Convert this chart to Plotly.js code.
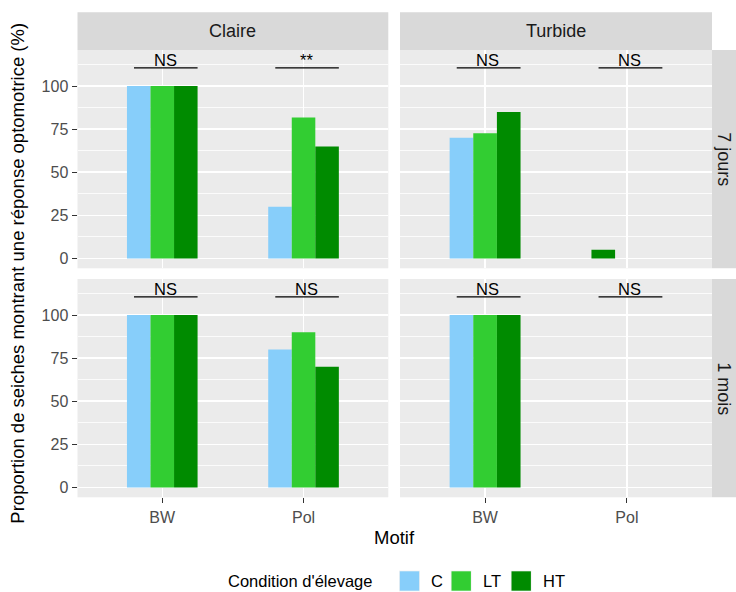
<!DOCTYPE html>
<html><head><meta charset="utf-8">
<script src="https://cdn.plot.ly/plotly-3.0.1.min.js"></script>
<style>html,body{margin:0;padding:0;background:#fff;}</style>
</head><body><div id="chart" style="width:736px;height:592px;"></div>
<script>
// ---------- data ----------
const motifs = ['BW', 'Pol'];
const conditions = ['C', 'LT', 'HT'];
const conditionColors = ['#87CEFA', '#32CD32', '#008B00'];
const eauLabels = ['Claire', 'Turbide'];
const periodLabels = ['7 jours', '1 mois'];
const legendTitle = "Condition d'élevage";
const xTitle = 'Motif';
const yTitle = 'Proportion de seiches montrant une réponse optomotrice (%)';
const yTicks = [0, 25, 50, 75, 100];

// values per motif, order [C, LT, HT]; null = no observation
const claire7_BW = [100, 100, 100];
const claire7_Pol = [30, 81.8, 65];
const turbide7_BW = [70, 72.7, 85];
const turbide7_Pol = [null, null, 5];
const claire1m_BW = [100, 100, 100];
const claire1m_Pol = [80, 90, 70];
const turbide1m_BW = [100, 100, 100];
const turbide1m_Pol = [null, null, null];

// significance labels per motif [BW, Pol]
const sig_claire7 = ['NS', '**'];
const sig_turbide7 = ['NS', 'NS'];
const sig_claire1m = ['NS', 'NS'];
const sig_turbide1m = ['NS', 'NS'];

// ---------- layout geometry (pixels) ----------
const W = 736, H = 592;
const colPx = [[77.5, 388.3], [400, 712]];
const rowPx = [[50, 268.3], [279, 497.3]];
const stripTop = 12.3, stripRight = 736;
const px2x = p => p / W;
const py2y = p => (H - p) / H;
const yRange = [-5.76, 120.96];
const xRange = [-0.6, 1.6];
const dodgeWidth = 0.5;
const sigY = 110.6;

const panels = [
  {row: 0, col: 0, groups: [claire7_BW, claire7_Pol], sig: sig_claire7},
  {row: 0, col: 1, groups: [turbide7_BW, turbide7_Pol], sig: sig_turbide7},
  {row: 1, col: 0, groups: [claire1m_BW, claire1m_Pol], sig: sig_claire1m},
  {row: 1, col: 1, groups: [turbide1m_BW, turbide1m_Pol], sig: sig_turbide1m},
];

const font = 'Liberation Sans, Arial, sans-serif';
const traces = [];
const layout = {
  width: W, height: H,
  margin: {l: 0, r: 0, t: 0, b: 0},
  paper_bgcolor: '#FFFFFF',
  plot_bgcolor: '#EBEBEB',
  barmode: 'overlay',
  showlegend: false,
  font: {family: font, color: '#000'},
  shapes: [],
  annotations: [],
};

const nSlots = conditions.length;
const barW = dodgeWidth / nSlots;

panels.forEach((p, i) => {
  const n = i + 1;
  const xa = n === 1 ? 'x' : 'x' + n;
  const ya = n === 1 ? 'y' : 'y' + n;
  const bottom = p.row === 1;
  const left = p.col === 0;
  // slot positions (ggplot dodge, preserve = single: left aligned)
  const offsets = p.groups.map(g => {
    let j = 0;
    return g.map(v => (v === null ? 0 : -dodgeWidth / 2 + (j++) * barW));
  });
  conditions.forEach((c, k) => {
    traces.push({
      type: 'bar',
      name: c,
      x: motifs,
      y: p.groups.map(g => g[k]),
      offset: p.groups.map((g, gi) => offsets[gi][k]),
      width: barW,
      marker: {color: conditionColors[k], line: {width: 0}},
      xaxis: xa, yaxis: ya,
      hoverinfo: 'skip',
    });
  });
  layout[n === 1 ? 'xaxis' : 'xaxis' + n] = {
    domain: [px2x(colPx[p.col][0]), px2x(colPx[p.col][1])],
    anchor: ya,
    type: 'category',
    range: xRange,
    showgrid: true, gridcolor: '#FFFFFF', gridwidth: 1.5,
    zeroline: false, showline: false,
    ticks: bottom ? 'outside' : '', ticklen: 5, tickwidth: 1.1, tickcolor: '#333333',
    showticklabels: bottom,
    tickfont: {family: font, size: 16, color: '#4D4D4D'},
    fixedrange: true,
  };
  layout[n === 1 ? 'yaxis' : 'yaxis' + n] = {
    domain: [py2y(rowPx[p.row][1]), py2y(rowPx[p.row][0])],
    anchor: xa,
    range: yRange,
    tickmode: 'array', tickvals: yTicks,
    showgrid: true, gridcolor: '#FFFFFF', gridwidth: 1.5,
    minor: {dtick: 12.5, tick0: 0, showgrid: true, gridcolor: '#FFFFFF', gridwidth: 0.8, ticks: ''},
    zeroline: false, showline: false,
    ticks: left ? 'outside' : '', ticklen: 5, tickwidth: 1.1, tickcolor: '#333333',
    showticklabels: left,
    tickfont: {family: font, size: 16, color: '#4D4D4D'},
    fixedrange: true,
  };
  // significance brackets
  p.sig.forEach((s, mi) => {
    layout.shapes.push({
      type: 'line', xref: xa, yref: ya,
      x0: mi - 0.2, x1: mi + 0.25, y0: sigY, y1: sigY,
      line: {color: '#000000', width: 1.3},
    });
    layout.annotations.push({
      xref: xa, yref: ya, x: mi + 0.02, y: sigY,
      text: s, showarrow: false, xanchor: 'center', yanchor: 'bottom', yshift: -3,
      font: {family: font, size: 16.5, color: '#000000'},
    });
  });
});

// top strips
eauLabels.forEach((lab, c) => {
  layout.shapes.push({
    type: 'rect', xref: 'paper', yref: 'paper', layer: 'below',
    x0: px2x(colPx[c][0]), x1: px2x(colPx[c][1]), y0: py2y(rowPx[0][0]), y1: py2y(stripTop),
    fillcolor: '#D9D9D9', line: {width: 0},
  });
  layout.annotations.push({
    xref: 'paper', yref: 'paper', x: px2x((colPx[c][0] + colPx[c][1]) / 2), y: py2y((stripTop + rowPx[0][0]) / 2),
    text: lab, showarrow: false, xanchor: 'center', yanchor: 'middle',
    font: {family: font, size: 18, color: '#1A1A1A'},
  });
});
// right strips
periodLabels.forEach((lab, r) => {
  layout.shapes.push({
    type: 'rect', xref: 'paper', yref: 'paper', layer: 'below',
    x0: px2x(colPx[1][1]), x1: px2x(stripRight), y0: py2y(rowPx[r][1]), y1: py2y(rowPx[r][0]),
    fillcolor: '#D9D9D9', line: {width: 0},
  });
  layout.annotations.push({
    xref: 'paper', yref: 'paper', x: px2x((colPx[1][1] + stripRight) / 2), y: py2y((rowPx[r][0] + rowPx[r][1]) / 2),
    text: lab, showarrow: false, textangle: 90, xanchor: 'center', yanchor: 'middle',
    font: {family: font, size: 18, color: '#1A1A1A'},
  });
});

// axis titles
layout.annotations.push({
  xref: 'paper', yref: 'paper', x: px2x((colPx[0][0] + colPx[1][1]) / 2), y: py2y(537.5),
  text: xTitle, showarrow: false, xanchor: 'center', yanchor: 'middle',
  font: {family: font, size: 18.5, color: '#000000'},
});
layout.annotations.push({
  xref: 'paper', yref: 'paper', x: px2x(18), y: py2y((rowPx[0][0] + rowPx[1][1]) / 2),
  text: yTitle, showarrow: false, textangle: -90, xanchor: 'center', yanchor: 'middle',
  font: {family: font, size: 18.5, color: '#000000'},
});

// legend (ggplot style, bottom)
const legY = 581;
const keyTop = 570.5;
layout.annotations.push({
  xref: 'paper', yref: 'paper', x: px2x(227.3), y: py2y(legY),
  text: legendTitle, showarrow: false, xanchor: 'left', yanchor: 'middle', borderpad: 0,
  font: {family: font, size: 16.5, color: '#000000'},
});
const keyX = [399, 450.7, 510.7];
const keySize = 21;
conditions.forEach((c, k) => {
  layout.shapes.push({
    type: 'rect', xref: 'paper', yref: 'paper',
    x0: px2x(keyX[k]), x1: px2x(keyX[k] + keySize), y0: py2y(keyTop + keySize), y1: py2y(keyTop),
    fillcolor: '#F2F2F2', line: {width: 0},
  });
  layout.shapes.push({
    type: 'rect', xref: 'paper', yref: 'paper',
    x0: px2x(keyX[k] + 0.8), x1: px2x(keyX[k] + keySize - 0.8), y0: py2y(keyTop + keySize - 0.8), y1: py2y(keyTop + 0.8),
    fillcolor: conditionColors[k], line: {width: 0},
  });
  layout.annotations.push({
    xref: 'paper', yref: 'paper', x: px2x(keyX[k] + keySize + 9.8), y: py2y(legY),
    text: c, showarrow: false, xanchor: 'left', yanchor: 'middle', borderpad: 0,
    font: {family: font, size: 16.5, color: '#000000'},
  });
});

Plotly.newPlot('chart', traces, layout, {displayModeBar: false, staticPlot: true});
</script>
</body></html>
